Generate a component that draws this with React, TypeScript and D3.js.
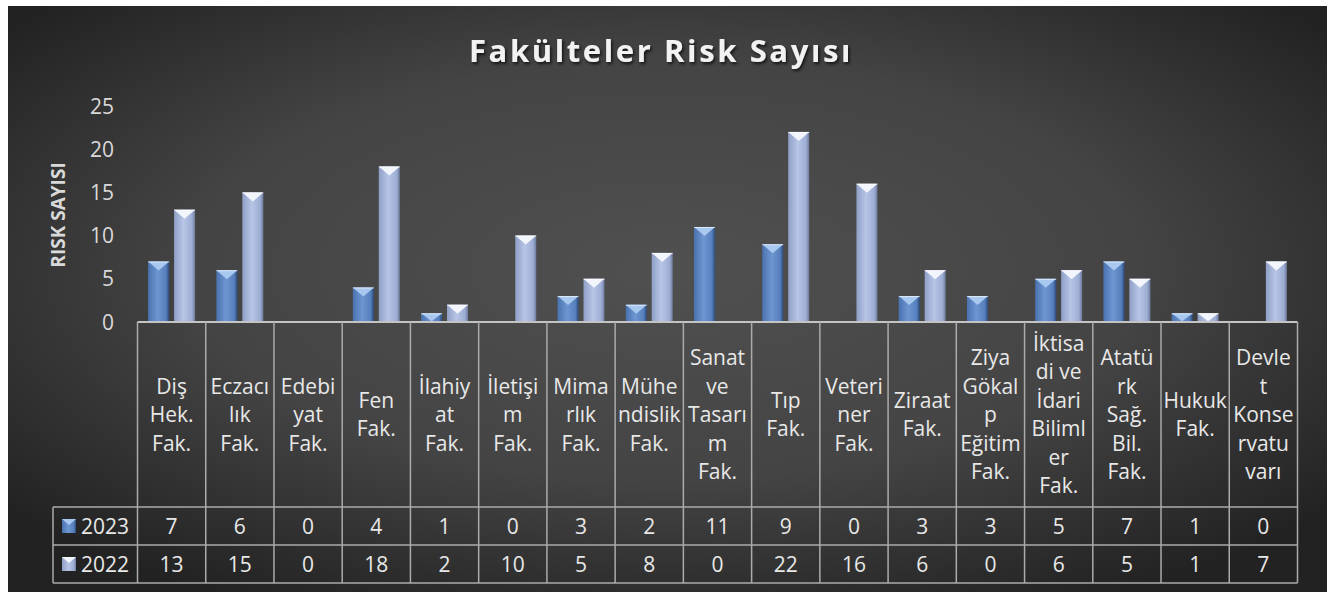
import React from "react";
import * as d3 from "d3";

const categories: string[][] = [
  ["Diş", "Hek.", "Fak."],
  ["Eczacı", "lık", "Fak."],
  ["Edebi", "yat", "Fak."],
  ["Fen", "Fak."],
  ["İlahiy", "at", "Fak."],
  ["İletişi", "m", "Fak."],
  ["Mima", "rlık", "Fak."],
  ["Mühe", "ndislik", "Fak."],
  ["Sanat", "ve", "Tasarı", "m", "Fak."],
  ["Tıp", "Fak."],
  ["Veteri", "ner", "Fak."],
  ["Ziraat", "Fak."],
  ["Ziya", "Gökal", "p", "Eğitim", "Fak."],
  ["İktisa", "di ve", "İdari", "Biliml", "er", "Fak."],
  ["Atatü", "rk", "Sağ.", "Bil.", "Fak."],
  ["Hukuk", "Fak."],
  ["Devle", "t", "Konse", "rvatu", "varı"],
];

const series = ["2023", "2022"];
const values2023 = [7, 6, 0, 4, 1, 0, 3, 2, 11, 9, 0, 3, 3, 5, 7, 1, 0];
const values2022 = [13, 15, 0, 18, 2, 10, 5, 8, 0, 22, 16, 6, 0, 6, 5, 1, 7];
const yTicks = [0, 5, 10, 15, 20, 25];

const W = 1343;
const H = 592;
const FONT = "'Open Sans', 'DejaVu Sans', sans-serif";

const App: React.FC = () => {
  const left = 137.5;
  const right = 1297.5;
  const axisY = 322;
  const headerBottom = 507;
  const rowH = 38;
  const legendLeft = 53;

  const x = d3
    .scaleBand<number>()
    .domain(categories.map((_, i) => i))
    .range([left, right])
    .padding(0);

  const inner = d3
    .scaleBand<string>()
    .domain(series)
    .range([0, x.bandwidth()])
    .paddingInner(0.19)
    .paddingOuter(0.41);

  const y = d3.scaleLinear().domain([0, 25]).range([axisY, 106]);

  const data = [values2023, values2022];
  const fills = ["url(#g2023)", "url(#g2022)"];
  const caps = ["#a9c8ef", "#f2f5fc"];
  const lineColor = "#ababab";
  const textColor = "#e8e8e8";

  const rows = [headerBottom, headerBottom + rowH, headerBottom + rowH * 2];
  const lineH = 28.5;
  const headerMid = (axisY + headerBottom) / 2;

  return (
    <svg
      width={W}
      height={H}
      style={{ position: "absolute", left: 0, top: 0 }}
      fontFamily={FONT}
    >
      <defs>
        <radialGradient id="bg" cx="50%" cy="45%" r="65%">
          <stop offset="0%" stopColor="#505050" />
          <stop offset="55%" stopColor="#444444" />
          <stop offset="100%" stopColor="#222222" />
        </radialGradient>
        <linearGradient id="g2023" x1="0" x2="1" y1="0" y2="0">
          <stop offset="0%" stopColor="#4a72b0" />
          <stop offset="45%" stopColor="#6e96d1" />
          <stop offset="85%" stopColor="#567fbd" />
          <stop offset="100%" stopColor="#2d4a7a" />
        </linearGradient>
        <linearGradient id="g2022" x1="0" x2="1" y1="0" y2="0">
          <stop offset="0%" stopColor="#8f9fc6" />
          <stop offset="45%" stopColor="#b7c5e6" />
          <stop offset="85%" stopColor="#9dadd3" />
          <stop offset="100%" stopColor="#6c7a9c" />
        </linearGradient>
        <filter id="shadow" x="-10%" y="-30%" width="120%" height="160%">
          <feDropShadow dx="1.5" dy="2" stdDeviation="1.5" floodColor="#000" floodOpacity="0.7" />
        </filter>
      </defs>

      <rect x={8} y={6} width={1319} height={H - 6} fill="url(#bg)" />

      <text
        x={661}
        y={62}
        textAnchor="middle"
        fontSize={31}
        fontWeight="bold"
        letterSpacing={2.6}
        fill="#f2f2f2"
        filter="url(#shadow)"
      >
        Fakülteler Risk Sayısı
      </text>

      <text
        transform={`translate(65, 215) rotate(-90)`}
        textAnchor="middle"
        fontSize={19}
        fontWeight="bold"
        fill="#d9d9d9"
      >
        RISK SAYISI
      </text>

      {yTicks.map((t) => (
        <text
          key={t}
          x={114}
          y={y(t)}
          dy="0.36em"
          textAnchor="end"
          fontSize={21}
          fill="#d9d9d9"
        >
          {t}
        </text>
      ))}

      {categories.map((_, i) =>
        series.map((s, k) => {
          const v = data[k][i];
          if (v === 0) return null;
          const bx = (x(i) as number) + (inner(s) as number);
          const bw = inner.bandwidth();
          const top = y(v);
          const capH = Math.min(9, (axisY - top) * 0.9);
          return (
            <g key={`${i}-${s}`}>
              <rect x={bx} y={top} width={bw} height={axisY - top} fill={fills[k]} />
              <polygon
                points={`${bx},${top} ${bx + bw},${top} ${bx + bw / 2},${top + capH}`}
                fill={caps[k]}
              />
              <line x1={bx} x2={bx + bw} y1={top + 0.5} y2={top + 0.5} stroke="#ffffff" strokeOpacity={0.6} />
            </g>
          );
        })
      )}

      {/* table grid */}
      <line x1={left} x2={right} y1={axisY} y2={axisY} stroke="#c4c4c4" strokeWidth={2} />
      {rows.map((ry) => (
        <line key={ry} x1={legendLeft} x2={right} y1={ry} y2={ry} stroke={lineColor} strokeWidth={1.5} />
      ))}
      <line x1={legendLeft} x2={legendLeft} y1={rows[0]} y2={rows[2]} stroke={lineColor} strokeWidth={1.5} />
      {d3.range(categories.length + 1).map((i) => {
        const lx = i < categories.length ? (x(i) as number) : right;
        return (
          <line key={i} x1={lx} x2={lx} y1={axisY} y2={rows[2]} stroke={lineColor} strokeWidth={1.5} />
        );
      })}

      {categories.map((lines, i) => {
        const cx = (x(i) as number) + x.bandwidth() / 2;
        const start = headerMid - ((lines.length - 1) * lineH) / 2;
        return (
          <text key={i} textAnchor="middle" fontSize={21} fill={textColor}>
            {lines.map((ln, j) => (
              <tspan key={j} x={cx} y={start + j * lineH} dy="0.36em">
                {ln}
              </tspan>
            ))}
          </text>
        );
      })}

      {series.map((s, k) => {
        const cy = rows[k] + rowH / 2;
        return (
          <g key={s}>
            <rect x={62} y={cy - 7} width={14} height={14} fill={fills[k]} />
            <polygon points={`62,${cy - 7} 76,${cy - 7} 69,${cy - 1}`} fill={caps[k]} />
            <text x={81} y={cy} dy="0.36em" fontSize={21} fill={textColor}>
              {s}
            </text>
            {data[k].map((v, i) => (
              <text
                key={i}
                x={(x(i) as number) + x.bandwidth() / 2}
                y={cy}
                dy="0.36em"
                textAnchor="middle"
                fontSize={21}
                fill={textColor}
              >
                {v}
              </text>
            ))}
          </g>
        );
      })}
    </svg>
  );
};

export default App;
